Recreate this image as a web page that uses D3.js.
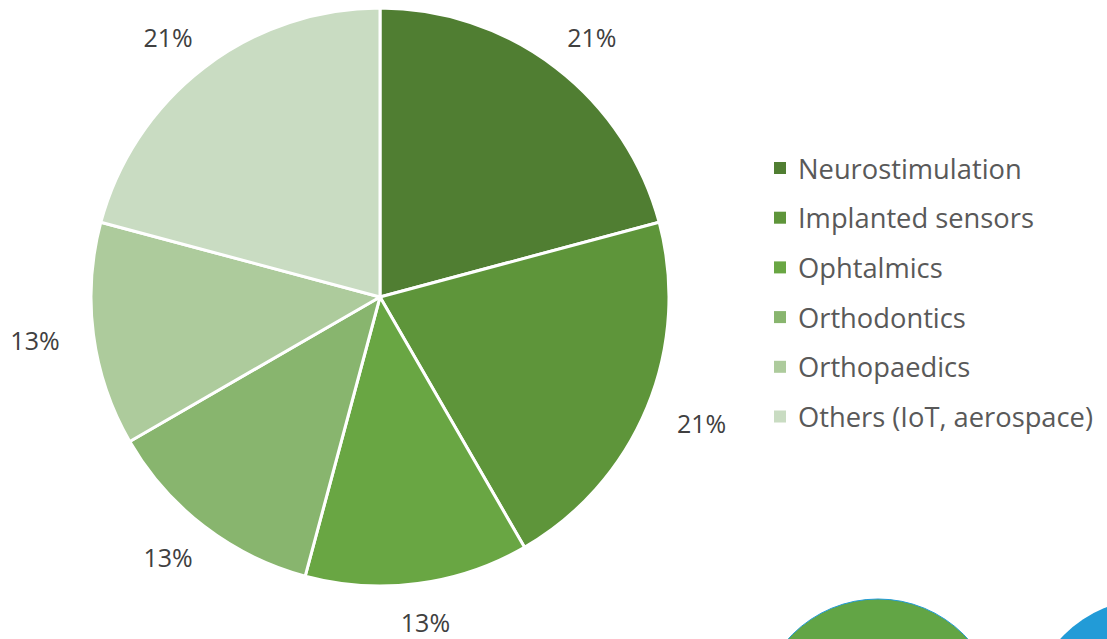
<!DOCTYPE html>
<html><head><meta charset="utf-8">
<script src="https://cdn.jsdelivr.net/npm/d3@7"></script>
<style>html,body{margin:0;padding:0;background:#fff;overflow:hidden}</style>
</head><body>
<svg id="c" width="1107" height="639"></svg>
<script>
const categories = ["Neurostimulation","Implanted sensors","Ophtalmics","Orthodontics","Orthopaedics","Others (IoT, aerospace)"];
const values = [5,5,3,3,3,5];
const colors = ["#507e32","#5e953a","#69a643","#88b56e","#adcb9c","#c9dcc2"];
const labels = ["21%","21%","13%","13%","13%","21%"];

const svg = d3.select("#c");
const font = "'Open Sans', sans-serif";
const cx = 380, cy = 297, r = 289;

// decorative circles at the bottom
svg.append("circle").attr("cx",1150).attr("cy",720).attr("r",121).attr("fill","#229bd7");
svg.append("circle").attr("cx",878).attr("cy",720).attr("r",121).attr("fill","#62a545").attr("stroke","#229bd7").attr("stroke-width",1);

const pie = d3.pie().sort(null).value(d=>d);
const arcs = pie(values);
const arc = d3.arc().innerRadius(0).outerRadius(r);
const g = svg.append("g").attr("transform",`translate(${cx},${cy})`);
g.selectAll("path").data(arcs).enter().append("path")
  .attr("d",arc).attr("fill",(d,i)=>colors[i])
  .attr("stroke","#fff").attr("stroke-width",3).attr("stroke-linejoin","round");

const rx = 348, ry = 328;
g.selectAll("text.l").data(arcs).enter().append("text")
  .attr("class","l")
  .attr("transform",d=>{const a=(d.startAngle+d.endAngle)/2;return `translate(${Math.sin(a)*rx},${-Math.cos(a)*ry})`;})
  .attr("text-anchor","middle").attr("dominant-baseline","central")
  .attr("font-family",font).attr("font-size",25).attr("fill","#404040")
  .text((d,i)=>labels[i]);

const lg = svg.append("g");
categories.forEach((c,i)=>{
  const y = 168 + i*49.7;
  lg.append("rect").attr("x",774).attr("y",y-6).attr("width",12).attr("height",12).attr("fill",colors[i]);
  lg.append("text").attr("x",798).attr("y",y).attr("dominant-baseline","central")
    .attr("font-family",font).attr("font-size",27.3).attr("fill","#595959").text(c);
});
</script>
</body></html>
